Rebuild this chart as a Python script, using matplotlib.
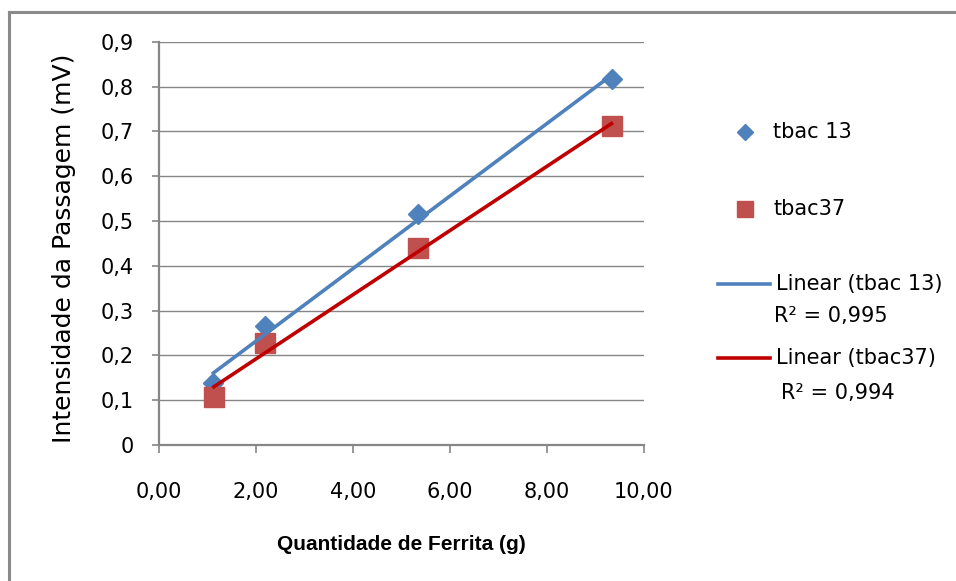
import numpy as np
import matplotlib.pyplot as plt
from matplotlib.lines import Line2D

# dados
ferrita_13 = [1.12, 2.19, 5.35, 9.33]
tbac13 = [0.138, 0.266, 0.516, 0.816]
ferrita_37 = [1.13, 2.19, 5.35, 9.33]
tbac37 = [0.108, 0.227, 0.439, 0.711]
r2_labels = ["R² = 0,995", "R² = 0,994"]
x_ticks = [0, 2, 4, 6, 8, 10]
x_tick_labels = ["0,00", "2,00", "4,00", "6,00", "8,00", "10,00"]
y_ticks = [0, 0.1, 0.2, 0.3, 0.4, 0.5, 0.6, 0.7, 0.8, 0.9]
y_tick_labels = ["0", "0,1", "0,2", "0,3", "0,4", "0,5", "0,6", "0,7", "0,8", "0,9"]

blue = '#4F81BD'
red_mk = '#C0504D'
red_ln = '#C00000'
gray = '#868686'

W, H = 956, 581
fig = plt.figure(figsize=(W / 100, H / 100), dpi=100)
plt.rcParams['font.family'] = ['DejaVu Sans']

def px(x, y):
    return x / W, 1 - y / H

ax = fig.add_axes([159 / W, 1 - 445 / H, (644 - 159) / W, (445 - 41.7) / H])

ax.plot(ferrita_13, tbac13, linestyle='none', marker='D', ms=10, color=blue, zorder=3)
ax.plot(ferrita_37, tbac37, linestyle='none', marker='s', ms=15, color=red_mk, zorder=4)

# linhas de tendencia (ajuste linear)
for xs, ys, c in [(ferrita_13, tbac13, blue), (ferrita_37, tbac37, red_ln)]:
    a, b = np.polyfit(xs, ys, 1)
    xx = np.array([min(xs), max(xs)])
    ax.plot(xx, a * xx + b, color=c, lw=2.6, zorder=5)

ax.set_xlim(0, 10)
ax.set_ylim(0, 0.9)
ax.set_xticks(x_ticks)
ax.set_xticklabels(x_tick_labels)
ax.set_yticks(y_ticks)
ax.set_yticklabels(y_tick_labels)
ax.grid(axis='y', color=gray, lw=1.0)
ax.set_axisbelow(True)
for s in ['top', 'right']:
    ax.spines[s].set_visible(False)
for s in ['left', 'bottom']:
    ax.spines[s].set_color(gray)
    ax.spines[s].set_linewidth(1.6)
ax.tick_params(axis='x', length=6, width=1.2, color=gray, pad=21, labelsize=15)
ax.tick_params(axis='y', length=5, width=1.2, color=gray, pad=13, labelsize=15)

ax.set_xlabel('Quantidade de Ferrita (g)', fontsize=15, fontweight='bold',
              family='Liberation Sans')
ax.xaxis.set_label_coords(0.5, -0.222)
ax.set_ylabel('Intensidade da Passagem (mV)', fontsize=18)
ax.yaxis.set_label_coords(-0.172, 0.488)

# legenda manual
fig.add_artist(Line2D([px(745, 0)[0]], [px(0, 132)[1]], marker='D', ms=8, color=blue, ls='none'))
fig.text(*px(773, 132), 'tbac 13', fontsize=15, va='center')
fig.add_artist(Line2D([px(745, 0)[0]], [px(0, 209)[1]], marker='s', ms=12, color=red_mk, ls='none'))
fig.text(*px(773, 209), 'tbac37', fontsize=15, va='center')
fig.add_artist(Line2D([px(718, 0)[0], px(770, 0)[0]], [px(0, 284)[1]] * 2, color=blue, lw=2.6))
fig.text(*px(776, 284), 'Linear (tbac 13)', fontsize=15, va='center')
fig.text(*px(774, 316), r2_labels[0], fontsize=15, va='center')
fig.add_artist(Line2D([px(718, 0)[0], px(770, 0)[0]], [px(0, 358)[1]] * 2, color=red_ln, lw=2.6))
fig.text(*px(776, 358), 'Linear (tbac37)', fontsize=15, va='center')
fig.text(*px(781, 393), r2_labels[1], fontsize=15, va='center')

# moldura do grafico
fig.add_artist(Line2D([px(9, 0)[0], 1.0], [px(0, 11.5)[1]] * 2, color='#8a8a8a', lw=2.2))
fig.add_artist(Line2D([px(9, 0)[0]] * 2, [px(0, 11.5)[1], 0.0], color='#8a8a8a', lw=2.2))

fig.savefig('out.png', dpi=100)
